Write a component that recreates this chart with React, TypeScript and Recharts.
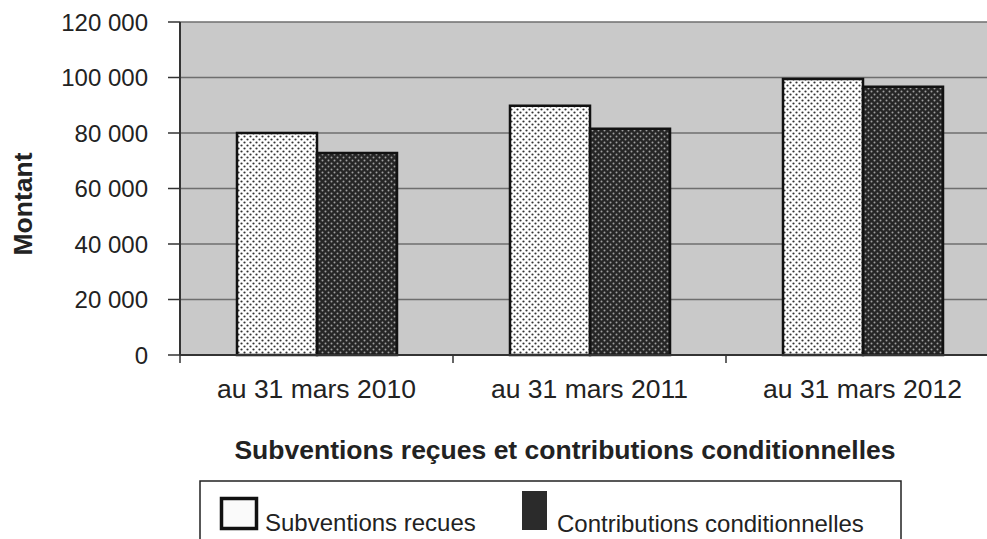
import { BarChart, Bar, XAxis, YAxis, CartesianGrid } from 'recharts';

const categories = ['au 31 mars 2010', 'au 31 mars 2011', 'au 31 mars 2012'];
const subventionsRecues = [80000, 89800, 99500];
const contributionsConditionnelles = [72800, 81500, 96700];
const yTicks = [0, 20000, 40000, 60000, 80000, 100000, 120000];

const data = categories.map((name, i) => ({
  name,
  subventions: subventionsRecues[i],
  contributions: contributionsConditionnelles[i],
}));

const CHART_W = 1012;
const CHART_H = 539;
const MARGIN = { top: 22, right: 13, bottom: 124, left: 0 };
const Y_AXIS_W = 180;
const BAND = (CHART_W - MARGIN.left - MARGIN.right - Y_AXIS_W) / categories.length;
const FONT = '"Liberation Sans", Arial, Helvetica, sans-serif';
const INK = '#222';

// 120000 -> "120 000"
const fmt = (v: number) =>
  v < 1000 ? String(v) : `${Math.floor(v / 1000)} ${String(v % 1000).padStart(3, '0')}`;

// tick marks sit between the categories, labels in the middle
function XTick(props: any) {
  const { x, y, payload, index } = props;
  const left = x - BAND / 2;
  const right = x + BAND / 2;
  return (
    <g>
      <line x1={left} x2={left} y1={y - 8} y2={y} stroke="#333" strokeWidth={1.5} />
      {index === categories.length - 1 && (
        <line x1={right} x2={right} y1={y - 8} y2={y} stroke="#333" strokeWidth={1.5} />
      )}
      <text x={x} y={y + 35} textAnchor="middle" fontSize={26.5} fill={INK} fontFamily={FONT}>
        {payload.value}
      </text>
    </g>
  );
}

export default function App() {
  return (
    <div
      style={{
        position: 'fixed', left: 0, top: 0, width: 987, height: 539,
        overflow: 'hidden', background: '#fff',
      }}
    >
      <BarChart
        width={CHART_W}
        height={CHART_H}
        data={data}
        margin={MARGIN}
        barCategoryGap={57}
        barGap={0}
      >
        <defs>
          <pattern id="dotsLight" width={6} height={6} patternUnits="userSpaceOnUse">
            <rect width={6} height={6} fill="#fff" />
            <circle cx={1.5} cy={1.5} r={1.1} fill="#333" />
            <circle cx={4.5} cy={4.5} r={1.1} fill="#333" />
          </pattern>
          <pattern id="dotsDark" width={6} height={6} patternUnits="userSpaceOnUse">
            <rect width={6} height={6} fill="#262626" />
            <circle cx={1.5} cy={1.5} r={1} fill="#a0a0a0" />
            <circle cx={4.5} cy={4.5} r={1} fill="#a0a0a0" />
          </pattern>
        </defs>
        <CartesianGrid vertical={false} fill="#c9c9c9" stroke="#6e6e6e" strokeWidth={1.5} />
        <XAxis
          dataKey="name"
          height={60}
          tickLine={false}
          tickSize={8}
          tickMargin={0}
          axisLine={{ stroke: '#333', strokeWidth: 2 }}
          tick={<XTick />}
          interval={0}
        />
        <YAxis
          width={Y_AXIS_W}
          domain={[0, 120000]}
          ticks={yTicks}
          tickFormatter={fmt}
          tickSize={12}
          tickMargin={20}
          tickLine={{ stroke: '#333', strokeWidth: 1.5 }}
          axisLine={{ stroke: '#333', strokeWidth: 2 }}
          tick={{ fontSize: 24, fill: INK, fontFamily: FONT }}
        />
        <Bar dataKey="subventions" fill="url(#dotsLight)" stroke="#111" strokeWidth={2.5} isAnimationActive={false} />
        <Bar dataKey="contributions" fill="url(#dotsDark)" stroke="#111" strokeWidth={2.5} isAnimationActive={false} />
      </BarChart>

      {/* titles and legend */}
      <svg
        width={987}
        height={539}
        style={{ position: 'absolute', left: 0, top: 0, pointerEvents: 'none' }}
        fontFamily={FONT}
      >
        <text
          x={32}
          y={204}
          transform="rotate(-90 32 204)"
          textAnchor="middle"
          fontSize={26.5}
          fontWeight="bold"
          fill={INK}
        >
          Montant
        </text>
        <text x={565} y={459} textAnchor="middle" fontSize={26.5} fontWeight="bold" fill={INK}>
          Subventions reçues et contributions conditionnelles
        </text>
        <rect x={200} y={481} width={701} height={80} fill="#fff" stroke={INK} strokeWidth={1.5} />
        <rect x={221.5} y={498.5} width={35} height={30} fill="#fafafa" stroke="#111" strokeWidth={3.5} />
        <text x={265} y={531} fontSize={24} fill={INK}>Subventions recues</text>
        <rect x={522} y={491} width={25} height={39} fill="#2b2b2b" />
        <text x={557} y={532} fontSize={24} fill={INK}>Contributions conditionnelles</text>
      </svg>
    </div>
  );
}
